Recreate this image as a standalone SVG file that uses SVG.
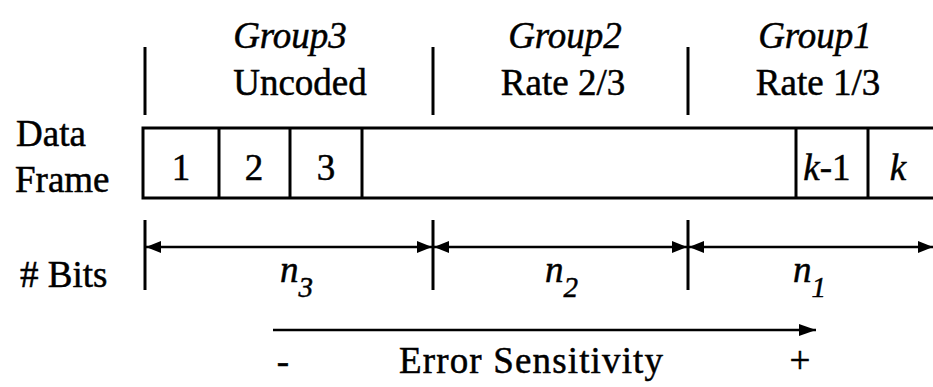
<svg xmlns="http://www.w3.org/2000/svg" width="933" height="387" viewBox="0 0 933 387">
<defs>
<style>
text{font-family:'Liberation Serif','Times New Roman',serif;font-size:37px;fill:#000;stroke:#000;stroke-width:0.5}
.c{text-anchor:middle}
.i{font-style:italic}
.ln{stroke:#000;stroke-width:3;fill:none}
.thin{stroke:#000;stroke-width:2.5;fill:none}
.sub{font-size:29px}
</style>
<marker id="ah" viewBox="0 0 15 12" refX="15" refY="6" markerWidth="15" markerHeight="12" markerUnits="userSpaceOnUse" orient="auto-start-reverse">
<path d="M0,0 L15,6 L0,12 Z" fill="#000"/>
</marker>
<marker id="ah2" viewBox="0 0 17 12" refX="17" refY="6" markerWidth="17" markerHeight="12" markerUnits="userSpaceOnUse" orient="auto">
<path d="M0,0 L17,6 L0,12 Z" fill="#000"/>
</marker>
</defs>
<rect width="933" height="387" fill="#fff"/>

<g id="headers">
<line class="ln" x1="145" y1="47" x2="145" y2="115"/>
<line class="ln" x1="433" y1="47" x2="433" y2="115"/>
<line class="ln" x1="688" y1="47" x2="688" y2="115"/>
<text class="c i" x="290" y="48">Group3</text>
<text class="c i" x="565" y="48">Group2</text>
<text class="c i" x="815" y="48">Group1</text>
<text class="c" x="300" y="95">Uncoded</text>
<text class="c" x="563" y="95">Rate 2/3</text>
<text class="c" x="818" y="95">Rate 1/3</text>
</g>

<g id="frame">
<text x="16" y="146">Data</text>
<text x="15" y="192">Frame</text>
<path class="ln" d="M933,128 H143 V198 H933"/>
<line class="ln" x1="219" y1="128" x2="219" y2="198"/>
<line class="ln" x1="290" y1="128" x2="290" y2="198"/>
<line class="ln" x1="362" y1="128" x2="362" y2="198"/>
<line class="ln" x1="796" y1="128" x2="796" y2="198"/>
<line class="ln" x1="868" y1="128" x2="868" y2="198"/>
<text class="c" x="181" y="180">1</text>
<text class="c" x="254" y="180">2</text>
<text class="c" x="326" y="180">3</text>
<text class="c" x="827" y="180"><tspan class="i">k</tspan>-1</text>
<text class="c i" x="898" y="180">k</text>
</g>

<g id="bits">
<text x="20" y="287"># Bits</text>
<line class="ln" x1="145" y1="220" x2="145" y2="290"/>
<line class="ln" x1="433" y1="220" x2="433" y2="290"/>
<line class="ln" x1="688" y1="220" x2="688" y2="290"/>
<text class="i" x="280" y="282">n<tspan class="sub" dy="15">3</tspan></text>
<text class="i" x="545" y="282">n<tspan class="sub" dy="15">2</tspan></text>
<text class="i" x="793" y="282">n<tspan class="sub" dy="15">1</tspan></text>
</g>

<g id="connectors">
<line class="thin" x1="146" y1="247" x2="432" y2="247" marker-start="url(#ah)" marker-end="url(#ah)"/>
<line class="thin" x1="434" y1="247" x2="687" y2="247" marker-start="url(#ah)" marker-end="url(#ah)"/>
<line class="thin" x1="689" y1="247" x2="933" y2="247" marker-start="url(#ah)" marker-end="url(#ah)"/>
<line class="thin" x1="273" y1="330" x2="816" y2="330" marker-end="url(#ah2)"/>
</g>

<g id="sensitivity">
<text class="c" x="283" y="374">-</text>
<text x="399" y="373" textLength="264" lengthAdjust="spacing">Error Sensitivity</text>
<text class="c" x="800" y="373">+</text>
</g>
</svg>
